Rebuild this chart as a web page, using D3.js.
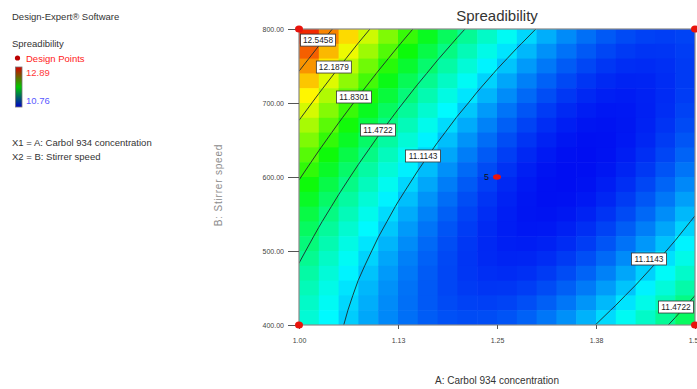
<!DOCTYPE html>
<html><head><meta charset="utf-8">
<script src="https://cdn.jsdelivr.net/npm/d3@7"></script>
<style>
body{margin:0;background:#fff}
svg{display:block;font-family:"Liberation Sans",Arial,sans-serif}
</style>
</head><body>
<svg id="chart" width="697" height="389"></svg>
<script>
// ---- data ----
const chartTitle = "Spreadibility";
const softwareName = "Design-Expert\u00AE Software";
const xTitle = "A: Carbol 934 concentration";
const yTitle = "B: Stirrer speed";
const factorNotes = ["X1 = A: Carbol 934 concentration", "X2 = B: Stirrer speed"];
const legendHigh = "12.89";
const legendLow = "10.76";

// grid nodes (factor A columns, factor B rows from top)
const aNodes = [1.000,1.025,1.050,1.075,1.100,1.125,1.150,1.175,1.200,1.225,1.250,1.275,1.300,1.325,1.350,1.375,1.400,1.425,1.450,1.475,1.500];
const bNodes = [800,780,760,740,720,700,680,660,640,620,600,580,560,540,520,500,480,460,440,420,400];

// Spreadibility read on the grid (rows follow bNodes, columns follow aNodes)
const spread = [
[12.898,12.684,12.482,12.292,12.114,11.947,11.792,11.649,11.518,11.399,11.291,11.195,11.111,11.039,10.979,10.930,10.893,10.868,10.855,10.854,10.864],
[12.770,12.562,12.366,12.181,12.009,11.848,11.699,11.562,11.437,11.323,11.222,11.132,11.054,10.987,10.933,10.890,10.859,10.840,10.833,10.837,10.854],
[12.646,12.444,12.254,12.076,11.909,11.754,11.611,11.480,11.361,11.253,11.157,11.073,11.001,10.941,10.892,10.856,10.831,10.817,10.816,10.826,10.849],
[12.528,12.332,12.148,11.975,11.815,11.666,11.529,11.403,11.290,11.188,11.098,11.020,10.954,10.900,10.857,10.826,10.807,10.800,10.804,10.821,10.849],
[12.415,12.225,12.047,11.880,11.725,11.582,11.451,11.332,11.224,11.128,11.044,10.972,10.912,10.863,10.827,10.802,10.788,10.787,10.798,10.820,10.854],
[12.307,12.123,11.951,11.790,11.641,11.504,11.379,11.265,11.164,11.074,10.996,10.930,10.875,10.832,10.802,10.783,10.775,10.780,10.796,10.824,10.864],
[12.205,12.026,11.860,11.705,11.562,11.431,11.312,11.204,11.108,11.024,10.952,10.892,10.843,10.807,10.782,10.769,10.767,10.778,10.800,10.834,10.880],
[12.107,11.935,11.774,11.625,11.488,11.363,11.250,11.148,11.058,10.980,10.914,10.860,10.817,10.786,10.767,10.760,10.764,10.781,10.809,10.849,10.901],
[12.015,11.849,11.694,11.551,11.420,11.300,11.193,11.097,11.013,10.941,10.881,10.832,10.796,10.771,10.758,10.756,10.767,10.789,10.823,10.869,10.927],
[11.928,11.767,11.619,11.482,11.356,11.243,11.141,11.051,10.973,10.907,10.853,10.810,10.779,10.760,10.753,10.758,10.774,10.802,10.842,10.894,10.958],
[11.846,11.691,11.548,11.417,11.298,11.191,11.095,11.011,10.939,10.879,10.830,10.793,10.768,10.755,10.754,10.765,10.787,10.821,10.867,10.925,10.994],
[11.769,11.621,11.484,11.358,11.245,11.143,11.054,10.976,10.909,10.855,10.812,10.782,10.763,10.755,10.760,10.776,10.805,10.845,10.897,10.960,11.036],
[11.698,11.555,11.424,11.305,11.197,11.101,11.018,10.945,10.885,10.837,10.800,10.775,10.762,10.761,10.771,10.794,10.828,10.874,10.931,11.001,11.082],
[11.631,11.494,11.369,11.256,11.154,11.065,10.987,10.920,10.866,10.824,10.793,10.774,10.767,10.771,10.788,10.816,10.856,10.908,10.971,11.047,11.134],
[11.570,11.439,11.320,11.212,11.117,11.033,10.961,10.901,10.852,10.816,10.791,10.778,10.776,10.787,10.809,10.843,10.889,10.947,11.017,11.098,11.191],
[11.514,11.389,11.276,11.174,11.085,11.007,10.940,10.886,10.844,10.813,10.794,10.787,10.791,10.808,10.836,10.876,10.928,10.992,11.067,11.154,11.253],
[11.463,11.344,11.237,11.141,11.057,10.985,10.925,10.877,10.840,10.815,10.802,10.801,10.811,10.834,10.868,10.914,10.972,11.041,11.123,11.216,11.321],
[11.418,11.305,11.203,11.113,11.035,10.969,10.915,10.872,10.842,10.823,10.816,10.820,10.837,10.865,10.905,10.957,11.021,11.096,11.183,11.282,11.393],
[11.377,11.270,11.174,11.091,11.019,10.958,10.910,10.873,10.848,10.835,10.834,10.845,10.867,10.901,10.947,11.005,11.075,11.156,11.249,11.354,11.471],
[11.342,11.241,11.151,11.073,11.007,10.953,10.910,10.879,10.860,10.853,10.858,10.875,10.903,10.943,10.995,11.059,11.134,11.221,11.320,11.431,11.554],
[11.312,11.216,11.133,11.061,11.000,10.952,10.915,10.891,10.878,10.876,10.887,10.909,10.944,10.990,11.047,11.117,11.198,11.292,11.397,11.513,11.642]
];

const colorMin = 10.7565;
const colorMax = 12.9037;
const contourLevels = [11.1143, 11.4722, 11.8301, 12.1879, 12.5458];

// contour labels: level text, and position in factor units
const labelText = ["12.5458","12.1879","11.8301","11.4722","11.1143","11.1143","11.4722"];
const labelA = [1.024, 1.044, 1.0694, 1.0997, 1.1566, 1.4419, 1.476];
const labelB = [785, 748.6, 708.1, 663.5, 628.4, 489.2, 424.3];

// design points
const designA = [1.00, 1.50, 1.00, 1.50, 1.25];
const designB = [800, 800, 400, 400, 600];
const designCount = [1, 1, 1, 1, 5];

// ticks
const xTicks = [1.00, 1.125, 1.25, 1.375, 1.50];
const xTickLabels = ["1.00", "1.13", "1.25", "1.38", "1.50"];
const yTicks = [400, 500, 600, 700, 800];
const yTickLabels = ["400.00", "500.00", "600.00", "700.00", "800.00"];

// ---- drawing ----
const svg = d3.select("#chart");
svg.append("rect").attr("width", 697).attr("height", 389).attr("fill", "#fff");

const X0 = 299, X1 = 695, Y0 = 29, Y1 = 325;
const x = d3.scaleLinear().domain([1.0, 1.5]).range([X0, X1]);
const y = d3.scaleLinear().domain([400, 800]).range([Y1, Y0]);

const span = colorMax - colorMin;
const color = d3.scaleLinear()
  .domain([0, 0.2, 0.45, 0.7, 0.95].map(t => colorMin + t * span))
  .range(["rgb(0,14,242)", "rgb(0,250,255)", "rgb(10,250,10)", "rgb(255,250,0)", "rgb(240,10,0)"])
  .interpolate(d3.interpolateRgb)
  .clamp(true);

svg.append("clipPath").attr("id", "plotclip")
  .append("rect").attr("x", X0).attr("y", Y0).attr("width", X1 - X0).attr("height", Y1 - Y0);

// heat cells
const cells = [];
for (let j = 0; j < bNodes.length - 1; j++) {
  for (let i = 0; i < aNodes.length - 1; i++) {
    const v = (spread[j][i] + spread[j][i + 1] + spread[j + 1][i] + spread[j + 1][i + 1]) / 4;
    cells.push({i, j, v});
  }
}
const plot = svg.append("g").attr("clip-path", "url(#plotclip)");
plot.selectAll("rect.cell").data(cells).join("rect")
  .attr("class", "cell")
  .attr("x", d => x(aNodes[d.i]))
  .attr("y", d => y(bNodes[d.j]))
  .attr("width", d => x(aNodes[d.i + 1]) - x(aNodes[d.i]) + 0.6)
  .attr("height", d => y(bNodes[d.j + 1]) - y(bNodes[d.j]) + 0.6)
  .attr("fill", d => color(d.v));

// contour lines
const nA = aNodes.length, nB = bNodes.length;
const gx = d3.scaleLinear().domain([0.5, nA - 0.5]).range([X0, X1]);
const gy = d3.scaleLinear().domain([0.5, nB - 0.5]).range([Y0, Y1]);
const contours = d3.contours().size([nA, nB]).thresholds(contourLevels)(spread.flat());
const proj = d3.geoTransform({ point(px, py) { this.stream.point(gx(px), gy(py)); } });
const path = d3.geoPath(proj);
plot.selectAll("path.contour").data(contours).join("path")
  .attr("class", "contour")
  .attr("d", path)
  .attr("fill", "none")
  .attr("stroke", "#1c2a2a")
  .attr("stroke-width", 0.9);

// plot frame
svg.append("rect").attr("x", X0).attr("y", Y0).attr("width", X1 - X0).attr("height", Y1 - Y0)
  .attr("fill", "none").attr("stroke", "#8a8a8a").attr("stroke-width", 1.2);

// contour labels
const lab = svg.append("g").selectAll("g").data(labelText).join("g")
  .attr("transform", (d, k) => `translate(${x(labelA[k])},${y(labelB[k])})`);
lab.append("rect").attr("x", -17.5).attr("y", -6).attr("width", 35).attr("height", 12)
  .attr("fill", "#fff").attr("stroke", "#333").attr("stroke-width", 0.8);
lab.append("text").text(d => d).attr("text-anchor", "middle").attr("dy", "0.35em")
  .attr("font-size", 8.3).attr("fill", "#222");

// axes
const yAxis = d3.axisLeft(y).tickValues(yTicks).tickFormat((d, k) => yTickLabels[k]).tickSize(11).tickPadding(4);
const gy1 = svg.append("g").attr("transform", `translate(${X0},0)`).call(yAxis);
gy1.select(".domain").remove();
gy1.selectAll("line").attr("stroke", "#555");
gy1.selectAll("text").attr("font-size", 7).attr("fill", "#444").attr("font-family", '"Liberation Sans",Arial,sans-serif');

const xAxis = d3.axisBottom(x).tickValues(xTicks).tickFormat((d, k) => xTickLabels[k]).tickSize(4).tickPadding(9);
const gx1 = svg.append("g").attr("transform", `translate(0,${Y1})`).call(xAxis);
gx1.select(".domain").remove();
gx1.selectAll("line").attr("stroke", "#555");
gx1.selectAll("text").attr("font-size", 7).attr("fill", "#444").attr("font-family", '"Liberation Sans",Arial,sans-serif');

// design points
const dp = svg.append("g");
dp.selectAll("ellipse").data(designA).join("ellipse")
  .attr("cx", (d, k) => x(d)).attr("cy", (d, k) => y(designB[k]))
  .attr("rx", 4).attr("ry", (d, k) => designCount[k] > 1 ? 2.8 : 3.6)
  .attr("fill", "#e8140c");
dp.selectAll("text").data(designA.filter((d, k) => designCount[k] > 1)).join("text")
  .attr("x", (d) => x(d) - 8).attr("y", () => y(designB[designCount.indexOf(5)]))
  .attr("dy", "0.3em").attr("text-anchor", "end").attr("font-size", 9).attr("fill", "#111")
  .text(designCount.find(c => c > 1));

// titles
svg.append("text").attr("x", (X0 + X1) / 2).attr("y", 21).attr("text-anchor", "middle")
  .attr("font-size", 15).attr("fill", "#333").text(chartTitle);
svg.append("text").attr("x", (X0 + X1) / 2).attr("y", 384).attr("text-anchor", "middle")
  .attr("font-size", 10).attr("fill", "#333").text(xTitle);
svg.append("text").attr("transform", `translate(222,185) rotate(-90)`).attr("text-anchor", "middle")
  .attr("font-size", 10).attr("letter-spacing", 0.8).attr("fill", "#8c8c8c").text(yTitle);

// left panel
const left = svg.append("g").attr("font-size", 9.5);
left.append("text").attr("x", 12).attr("y", 20).attr("fill", "#333").text(softwareName);
left.append("text").attr("x", 12).attr("y", 47).attr("fill", "#333").text(chartTitle);
left.append("circle").attr("cx", 17.5).attr("cy", 58).attr("r", 2.6).attr("fill", "#b00");
left.append("text").attr("x", 26).attr("y", 61.5).attr("fill", "#ff2020").text("Design Points");
const grad = svg.append("defs").append("linearGradient").attr("id", "lg").attr("x1", 0).attr("x2", 0).attr("y1", 0).attr("y2", 1);
grad.append("stop").attr("offset", "0%").attr("stop-color", "#d80000");
grad.append("stop").attr("offset", "50%").attr("stop-color", "#00c800");
grad.append("stop").attr("offset", "100%").attr("stop-color", "#0000c8");
left.append("rect").attr("x", 15.5).attr("y", 67).attr("width", 6.5).attr("height", 40)
  .attr("fill", "url(#lg)").attr("stroke", "#777").attr("stroke-width", 0.8);
left.append("text").attr("x", 26).attr("y", 76).attr("fill", "#ff3838").text(legendHigh);
left.append("text").attr("x", 26).attr("y", 104).attr("fill", "#5a5aff").text(legendLow);
factorNotes.forEach((t, k) => {
  left.append("text").attr("x", 12).attr("y", 146 + k * 13.5).attr("fill", "#333").text(t);
});
</script>
</body></html>
